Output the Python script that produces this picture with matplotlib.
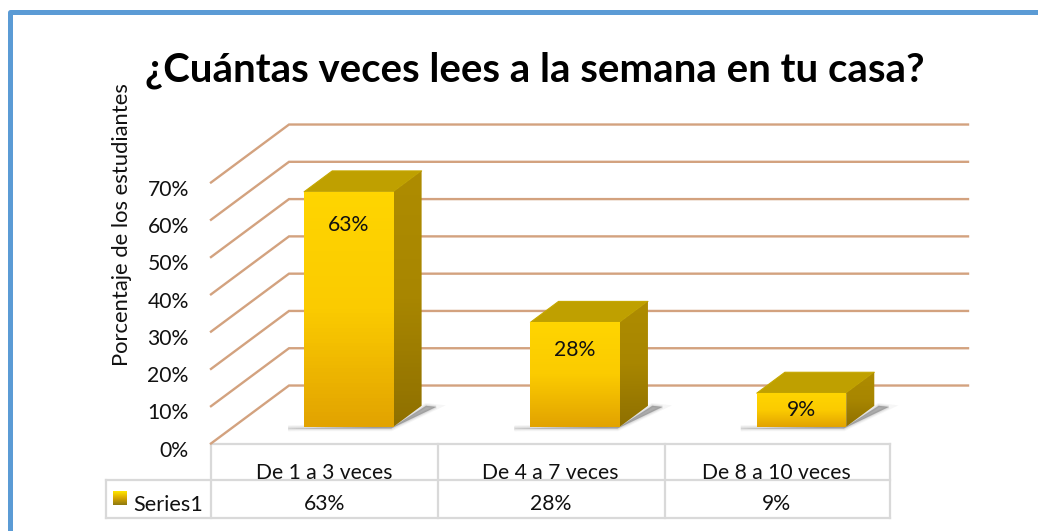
import matplotlib.pyplot as plt
import numpy as np
from matplotlib.colors import LinearSegmentedColormap
from matplotlib.patches import Polygon

plt.rcParams['font.family'] = ['Lato', 'DejaVu Sans']

W, H = 1038, 531

title = '¿Cuántas veces lees a la semana en tu casa?'
ylabel = 'Porcentaje de los estudiantes'
categories = ['De 1 a 3 veces', 'De 4 a 7 veces', 'De 8 a 10 veces']
series_name = 'Series1'
values = [63, 28, 9]
value_labels = ['63%', '28%', '9%']
label_offsets = [-24, -20, -12]
yticks = [0, 10, 20, 30, 40, 50, 60, 70]
ytick_labels = ['0%', '10%', '20%', '30%', '40%', '50%', '60%', '70%']

# oblique depth of the 3d box, in data units
depth_x = 78 / 226.3
depth_y = 58 / 3.73
bar_width = 0.395
bar_d0, bar_d1 = 0.29, 0.65

grid_color = '#D3A27F'
table_color = '#D9D9D9'
frame_color = '#5B9BD5'

front_cmap = LinearSegmentedColormap.from_list('front', ['#FFD500', '#FBCB00', '#E2A300'])
side_cmap = LinearSegmentedColormap.from_list('side', ['#AE8C00', '#A88600', '#8F7000'])
key_cmap = LinearSegmentedColormap.from_list('key', ['#FFE600', '#D9A800', '#8F7A10'])


def proj(x, y, d):
    return x + d * depth_x, y + d * depth_y


fig = plt.figure(figsize=(W / 100, H / 100), dpi=100)

# overlay in pixel coordinates for the frame and the data table
page = fig.add_axes([0, 0, 1, 1], zorder=0)
page.set_xlim(0, W)
page.set_ylim(H, 0)
page.axis('off')

page.plot([10, 10, W + 5], [H + 5, 11.8, 11.8], color=frame_color, lw=3.6, solid_joinstyle='round')

rows = [(211, 890, 443.5), (106, 890, 480), (106, 890, 518)]
for x0, x1, y in rows:
    page.plot([x0, x1], [y, y], color=table_color, lw=1.6)
cols = [(106, 480), (211, 443.5), (438, 443.5), (665, 443.5), (890, 443.5)]
for x, y0 in cols:
    page.plot([x, x], [y0, 518], color=table_color, lw=1.6)

page.text(534.5, 70, title, fontsize=28.9, fontweight='bold', ha='center', va='center', color='black')
page.text(122.5, 225, ylabel, fontsize=15.8, rotation=90, ha='center', va='center', color='#111111')
page.text(133, 503, series_name, fontsize=15.6, ha='left', va='center_baseline', color='#111111')

key = page.imshow(np.linspace(0, 1, 32).reshape(-1, 1), cmap=key_cmap, aspect='auto',
                  extent=(113, 127, 505, 491), zorder=3)
page.set_xlim(0, W)
page.set_ylim(H, 0)

for i, cat in enumerate(categories):
    cx = 211 + (i + 0.5) * 226.3
    page.text(cx, 473, cat, fontsize=15.2, ha='center', va='center', color='#111111')
    page.text(cx, 504, value_labels[i], fontsize=15.2, ha='center', va='center', color='#111111')

# chart axes: x in categories, y in percent
ax = fig.add_axes([211 / W, 1 - 443.5 / H, 679 / W, 261 / H], zorder=1)
ax.patch.set_alpha(0)
ax.set_xlim(0, 3)
ax.set_ylim(0, 70)
for s in ax.spines.values():
    s.set_visible(False)
ax.set_xticks([])
ax.set_yticks(yticks)
ax.set_yticklabels([])
ax.tick_params(length=0)

for v, lab in zip(yticks, ytick_labels):
    ax.annotate(lab, (0, v), xytext=(-16, -5.2), textcoords='offset points',
                ha='right', va='center', fontsize=15.2, color='#111111', annotation_clip=False)
    bx, by = proj(0, v, 1)
    ex, ey = proj(3, v, 1)
    ax.plot([0, bx, ex], [v, by, ey], color=grid_color, lw=1.7, clip_on=False, zorder=1,
            solid_joinstyle='miter')

for i, val in enumerate(values):
    left = i + 0.5 - bar_width / 2 + 0.009
    right = left + bar_width

    # soft floor shadow
    sh = [proj(left - 0.06, 0, bar_d0 - 0.03), proj(right, 0, bar_d0 - 0.03),
          proj(right + 0.07, 0, bar_d1 - 0.02), proj(right + 0.02, 0, bar_d1),
          proj(right, 0, bar_d0)]
    for lw, a in [(4, 0.06), (2.5, 0.1), (1, 0.14), (0, 0.3)]:
        ax.add_patch(Polygon(sh, closed=True, facecolor='#666666', edgecolor='#666666', lw=lw,
                             alpha=a, clip_on=False, zorder=2))

    # top
    top = [proj(left, val, bar_d0), proj(right, val, bar_d0),
           proj(right, val, bar_d1), proj(left, val, bar_d1)]
    ax.add_patch(Polygon(top, closed=True, facecolor='#BFA000', edgecolor='#C6A800', lw=0.8,
                         clip_on=False, zorder=3, joinstyle='round'))

    # side with gradient
    side = [proj(right, 0, bar_d0), proj(right, val, bar_d0),
            proj(right, val, bar_d1), proj(right, 0, bar_d1)]
    xs, ys = zip(*side)
    pg = Polygon(side, closed=True, transform=ax.transData, facecolor='none', edgecolor='none')
    ax.add_patch(pg)
    im = ax.imshow(np.linspace(0, 1, 64).reshape(-1, 1), cmap=side_cmap, aspect='auto',
                   extent=(min(xs), max(xs), min(ys), max(ys)), zorder=3.1)
    im.set_clip_path(pg)
    im.set_clip_box(fig.bbox)

    # front with gradient
    front = [proj(left, 0, bar_d0), proj(right, 0, bar_d0),
             proj(right, val, bar_d0), proj(left, val, bar_d0)]
    xs, ys = zip(*front)
    pg = Polygon(front, closed=True, transform=ax.transData, facecolor='none', edgecolor='none')
    ax.add_patch(pg)
    im = ax.imshow(np.linspace(0, 1, 64).reshape(-1, 1), cmap=front_cmap, aspect='auto',
                   extent=(min(xs), max(xs), min(ys), max(ys)), zorder=3.2)
    im.set_clip_path(pg)
    im.set_clip_box(fig.bbox)

    # value label near the top of the front face
    lx, ly = proj((left + right) / 2, val, bar_d0)
    ax.annotate(value_labels[i], (lx, ly), xytext=(0, label_offsets[i]), textcoords='offset points',
                ha='center', va='center', fontsize=15.2, color='#111111', zorder=5,
                annotation_clip=False)

ax.set_xlim(0, 3)
ax.set_ylim(0, 70)

fig.savefig('out.png', dpi=100)
